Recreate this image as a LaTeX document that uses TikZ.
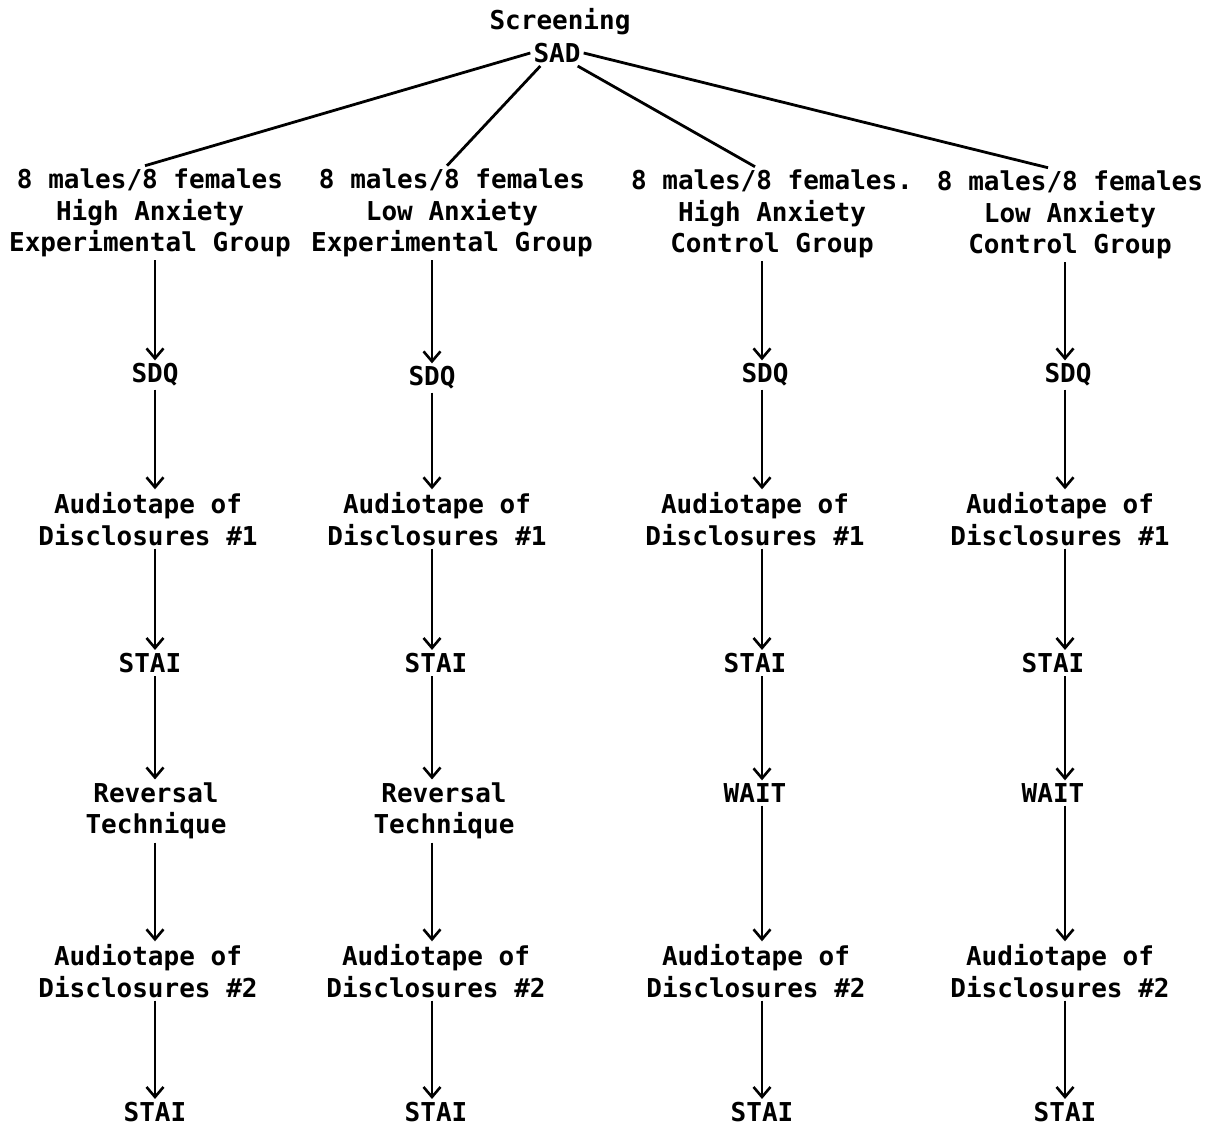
\documentclass[tikz,border=0pt]{standalone}
\usepackage{fontspec}
\setmonofont{DejaVu Sans Mono}
\usetikzlibrary{arrows.meta}
\begin{document}
\begin{tikzpicture}[x=1pt,y=-1pt,
  lbl/.style={font=\ttfamily\bfseries\fontsize{26}{31.5}\selectfont, align=center, inner sep=3pt},
  arr/.style={-{Straight Barb[length=10pt,width=17pt,line width=2.6pt]}, line width=2.6pt},
  link/.style={line width=2.8pt}]
\useasboundingbox (0,0) rectangle (1221,1129);
\fill[white] (0,0) rectangle (1221,1129);
\node[lbl] (scr) at (560,22) {Screening};
\node[lbl] (sad) at (557,53) {SAD};
% headers
\node[lbl] (h1) at (150,213) {8 males/8 females\\High Anxiety\\Experimental Group};
\node[lbl] (h2) at (452,213) {8 males/8 females\\Low Anxiety\\Experimental Group};
\node[lbl] (h3) at (772,214) {8 males/8 females.\\High Anxiety\\Control Group};
\node[lbl] (h4) at (1070,215) {8 males/8 females\\Low Anxiety\\Control Group};
% column coordinates
\coordinate (c1) at (155,0);
\coordinate (c2) at (432,0);
\coordinate (c3) at (762,0);
\coordinate (c4) at (1065,0);
% column 1
\node[lbl] (q1) at (155,375) {SDQ};
\node[lbl] (a1) at (148,519) {Audiotape of\\Disclosures \#1};
\node[lbl] (s1) at (150,663) {STAI};
\node[lbl] (r1) at (156,811) {Reversal\\Technique};
\node[lbl] (b1) at (148,971) {Audiotape of\\Disclosures \#2};
\node[lbl] (t1) at (155,1112) {STAI};
% column 2
\node[lbl] (q2) at (432,378) {SDQ};
\node[lbl] (a2) at (437,519) {Audiotape of\\Disclosures \#1};
\node[lbl] (s2) at (436,663) {STAI};
\node[lbl] (r2) at (444,811) {Reversal\\Technique};
\node[lbl] (b2) at (436,971) {Audiotape of\\Disclosures \#2};
\node[lbl] (t2) at (436,1112) {STAI};
% column 3
\node[lbl] (q3) at (765,375) {SDQ};
\node[lbl] (a3) at (755,519) {Audiotape of\\Disclosures \#1};
\node[lbl] (s3) at (755,663) {STAI};
\node[lbl] (w3) at (755,793) {WAIT};
\node[lbl] (b3) at (756,971) {Audiotape of\\Disclosures \#2};
\node[lbl] (t3) at (762,1112) {STAI};
% column 4
\node[lbl] (q4) at (1068,375) {SDQ};
\node[lbl] (a4) at (1060,519) {Audiotape of\\Disclosures \#1};
\node[lbl] (s4) at (1053,663) {STAI};
\node[lbl] (w4) at (1053,793) {WAIT};
\node[lbl] (b4) at (1060,971) {Audiotape of\\Disclosures \#2};
\node[lbl] (t4) at (1065,1112) {STAI};
% links from SAD
\draw[link] (sad.west) -- ([xshift=-5pt]h1.north);
\draw[link] ([xshift=10pt]sad.south west) -- ([xshift=-5pt]h2.north);
\draw[link] ([xshift=-6pt]sad.south east) -- ([xshift=-17pt]h3.north);
\draw[link] (sad.east) -- ([xshift=-22pt]h4.north);
% arrows
\foreach \c/\n in {1/q1,2/q2,3/q3,4/q4}{
  \draw[arr] (h\c.south -| c\c) -- (\n.north -| c\c);}
\foreach \u/\v/\c in {q1/a1/1,a1/s1/1,s1/r1/1,r1/b1/1,b1/t1/1,
                      q2/a2/2,a2/s2/2,s2/r2/2,r2/b2/2,b2/t2/2,
                      q3/a3/3,a3/s3/3,s3/w3/3,w3/b3/3,b3/t3/3,
                      q4/a4/4,a4/s4/4,s4/w4/4,w4/b4/4,b4/t4/4}{
  \draw[arr] (\u.south -| c\c) -- (\v.north -| c\c);}
\end{tikzpicture}
\end{document}
